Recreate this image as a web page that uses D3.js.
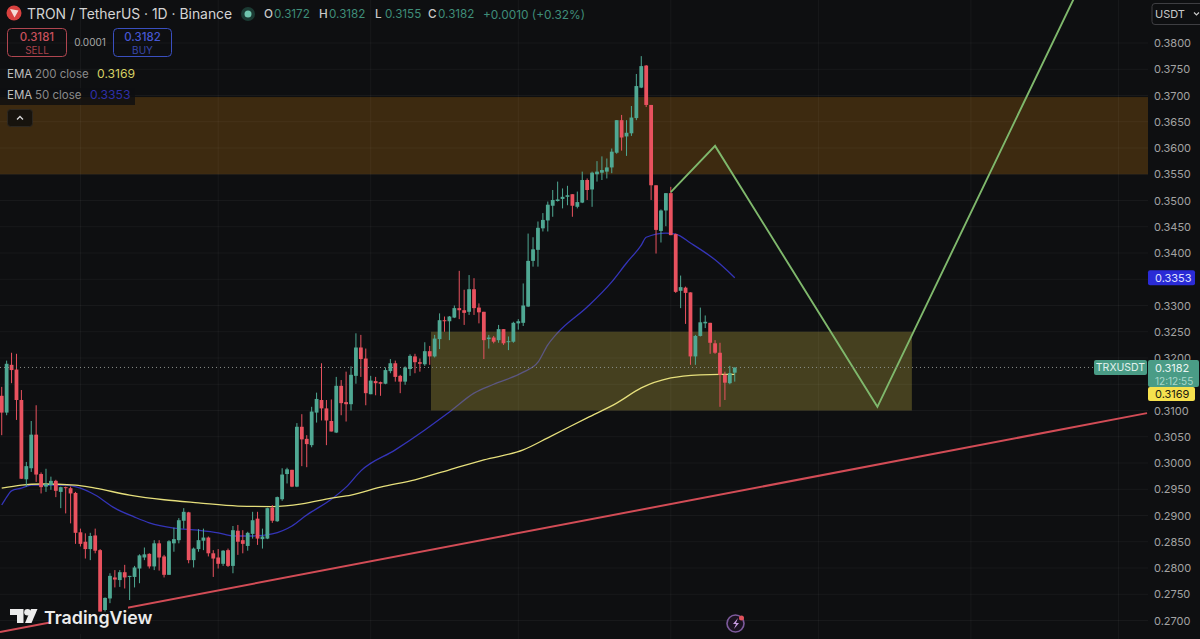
<!DOCTYPE html>
<html>
<head>
<meta charset="utf-8">
<script src="https://cdnjs.cloudflare.com/ajax/libs/d3/7.8.5/d3.min.js"></script>
<style>
  html, body { margin: 0; padding: 0; background: #0e0f11; }
  svg { display: block; font-family: Inter, "Noto Sans", sans-serif; }
</style>
</head>
<body>
<svg id="chart" width="1200" height="639"></svg>
<script>
// Daily TRX/USDT candles
const opens = [
  .3128,.3096,.3187,.3178,.3120,.2969,.2990,.3054,.2979,.2955,
  .2958,.2966,.2945,.2954,.2952,.2943,.2868,.2850,.2836,.2862,
  .2834,.2720,.2742,.2782,.2777,.2792,.2783,.2783,.2799,.2820,
  .2827,.2803,.2847,.2822,.2787,.2847,.2853,.2890,.2906,.2815,
  .2836,.2852,.2858,.2828,.2820,.2808,.2834,.2804,.2871,.2853,
  .2842,.2865,.2894,.2855,.2856,.2915,.2889,.2931,.2979,.2987,
  .2955,.3069,.3046,.3034,.3096,.3120,.3104,.3080,.3058,.3147,
  .3116,.3112,.3166,.3220,.3199,.3131,.3156,.3154,.3151,.3175,
  .3190,.3166,.3155,.3179,.3203,.3192,.3188,.3213,.3203,.3236,
  .3272,.3270,.3277,.3295,.3291,.3288,.3331,.3296,.3288,.3236,
  .3239,.3234,.3255,.3231,.3231,.3266,.3267,.3298,.3385,.3406,
  .3447,.3462,.3490,.3499,.3503,.3507,.3512,.3488,.3496,.3539,
  .3521,.3550,.3553,.3555,.3563,.3591,.3653,.3622,.3628,.3657,
  .3715,.3757,.3682,.3529,.3442,.3481,.3514,.3436,.3328,.3334,
  .3325,.3203,.3242,.3266,.3267,.3228,.3210,.3168,.3152,.3172
];
const highs = [
  .3145,.3195,.3210,.3208,.3139,.3002,.3080,.3110,.2982,.2989,
  .2974,.2968,.2955,.2955,.2955,.2945,.2875,.2866,.2867,.2875,
  .2836,.2744,.2790,.2796,.2796,.2806,.2785,.2804,.2826,.2839,
  .2828,.2853,.2853,.2825,.2853,.2877,.2895,.2914,.2907,.2839,
  .2874,.2875,.2860,.2834,.2836,.2834,.2837,.2880,.2882,.2872,
  .2869,.2907,.2907,.2875,.2915,.2920,.2936,.2990,.2991,.2987,
  .3076,.3093,.3053,.3107,.3134,.3190,.3120,.3121,.3164,.3158,
  .3174,.3184,.3247,.3244,.3218,.3166,.3164,.3155,.3182,.3198,
  .3195,.3168,.3184,.3207,.3208,.3199,.3230,.3223,.3244,.3285,
  .3279,.3280,.3300,.3366,.3330,.3358,.3352,.3304,.3288,.3244,
  .3242,.3263,.3255,.3241,.3269,.3274,.3342,.3437,.3430,.3460,
  .3476,.3498,.3520,.3536,.3523,.3528,.3512,.3517,.3555,.3542,
  .3555,.3575,.3584,.3580,.3599,.3653,.3663,.3653,.3680,.3741,
  .3775,.3758,.3682,.3529,.3483,.3514,.3526,.3437,.3357,.3336,
  .3325,.3244,.3296,.3281,.3267,.3234,.3229,.3174,.3185,.3182
];
const lows = [
  .3053,.3091,.3152,.3082,.2970,.2955,.2983,.2964,.2942,.2945,
  .2949,.2935,.2914,.2904,.2885,.2846,.2841,.2818,.2815,.2828,
  .2717,.2717,.2733,.2763,.2764,.2761,.2739,.2763,.2771,.2815,
  .2799,.2796,.2795,.2782,.2787,.2831,.2847,.2875,.2809,.2801,
  .2831,.2834,.2822,.2783,.2799,.2804,.2802,.2790,.2825,.2828,
  .2833,.2856,.2844,.2837,.2855,.2886,.2888,.2928,.2961,.2954,
  .2954,.2994,.2992,.3030,.3077,.3081,.3034,.3060,.3057,.3091,
  .3079,.3100,.3151,.3164,.3110,.3131,.3129,.3128,.3150,.3171,
  .3155,.3133,.3149,.3166,.3171,.3174,.3185,.3187,.3201,.3217,
  .3250,.3234,.3276,.3274,.3263,.3282,.3282,.3266,.3198,.3218,
  .3228,.3229,.3225,.3215,.3229,.3254,.3261,.3297,.3374,.3374,
  .3441,.3441,.3469,.3498,.3485,.3491,.3469,.3485,.3495,.3501,
  .3488,.3536,.3539,.3542,.3552,.3589,.3595,.3585,.3623,.3653,
  .3714,.3678,.3501,.3399,.3420,.3451,.3434,.3324,.3295,.3265,
  .3187,.3187,.3241,.3257,.3208,.3208,.3107,.3120,.3150,.3155
];
const closes = [
  .3096,.3189,.3177,.3120,.2970,.2994,.3054,.2978,.2954,.2960,
  .2966,.2947,.2954,.2952,.2942,.2867,.2846,.2836,.2861,.2833,
  .2717,.2743,.2785,.2778,.2792,.2782,.2785,.2801,.2824,.2826,
  .2803,.2847,.2820,.2787,.2851,.2855,.2891,.2907,.2815,.2837,
  .2853,.2858,.2828,.2818,.2808,.2833,.2804,.2872,.2850,.2846,
  .2867,.2891,.2856,.2860,.2914,.2890,.2935,.2978,.2988,.2955,
  .3069,.3045,.3036,.3098,.3122,.3104,.3081,.3060,.3147,.3114,
  .3112,.3168,.3220,.3198,.3133,.3157,.3152,.3151,.3177,.3190,
  .3164,.3155,.3182,.3204,.3192,.3189,.3213,.3203,.3237,.3272,
  .3270,.3279,.3295,.3291,.3286,.3331,.3295,.3287,.3234,.3239,
  .3231,.3255,.3228,.3232,.3267,.3270,.3300,.3385,.3407,.3448,
  .3463,.3492,.3501,.3502,.3507,.3510,.3490,.3497,.3539,.3520,
  .3553,.3555,.3558,.3563,.3593,.3653,.3620,.3629,.3658,.3718,
  .3756,.3682,.3529,.3444,.3481,.3514,.3434,.3326,.3335,.3324,
  .3203,.3242,.3268,.3269,.3229,.3210,.3168,.3153,.3171,.3182
];

// Moving averages, as [bar index, price]
const ema200 = [[0,.2952],[4,.2958],[8,.2960],[15,.2958],[19,.2952],[26,.2939],[33,.2930],[40,.2924],
  [48,.2918],[55,.2917],[61,.2922],[67,.2933],[71,.2939],[77,.2954],[84,.2968],[91,.2987],[98,.3006],
  [106,.3025],[111,.3048],[119,.3086],[125,.3114],[130,.3143],[136,.3162],[142,.3168],[146,.3169],[149,.3169]];
const ema50 = [[0,.2920],[1,.2935],[2,.2947],[4,.2952],[6,.2958],[13,.2958],[16,.2952],[19,.2939],[23,.2914],
  [27,.2897],[30,.2886],[35,.2876],[40,.2872],[44,.2867],[47,.2861],[51,.2861],[55,.2865],[59,.2880],
  [62,.2901],[67,.2931],[70,.2954],[73,.2985],[80,.3025],[86,.3063],[91,.3097],[96,.3133],[100,.3150],
  [106,.3173],[109,.3192],[111,.3225],[113,.3248],[119,.3297],[124,.3345],[127,.3381],[130,.3415],
  [131,.3430],[135,.3438],[137,.3436],[140,.3419],[145,.3387],[149,.3353]];

// Hand-drawn analysis: trend line, projected path, supply and demand zones
const trendLine = [[-0.35,.2678],[232.8,.3095]];
const projection = [[136,.3516],[145,.3604],[178,.3107],[218,.3886]];
const supplyZone = { from: -0.35, to: 233, top: .3697, bottom: .3550 };
const demandZone = { from: 87.25, to: 185, top: .3250, bottom: .3100 };

const priceTicks = [.38,.37,.375,.365,.36,.355,.35,.345,.34,.335,.33,.325,.32,.315,.31,.305,.30,.295,.29,.285,.28,.275,.27];
const monthBars = [16,44,75,105,136,166,197,227];
const lastPrice = .3182, ema200Last = .3169, ema50Last = .3353;

const svg = d3.select("#chart");
const paneRight = 1148;
const x = d3.scaleLinear().domain([-0.35, 233]).range([0, paneRight]);
const y = d3.scaleLinear().domain([.38, .27]).range([43, 620.5]);

const BG = "#0e0f11", UP = "#4fa893", DOWN = "#e9525f";

svg.append("defs").append("clipPath").attr("id", "pane")
  .append("rect").attr("width", paneRight).attr("height", 639);
svg.append("rect").attr("width", 1200).attr("height", 639).attr("fill", BG);

const pane = svg.append("g").attr("clip-path", "url(#pane)");
const line = d3.line().x(d => x(d[0])).y(d => y(d[1]));
const smooth = d3.line().x(d => x(d[0])).y(d => y(d[1])).curve(d3.curveMonotoneX);

// Blue EMA sits under the demand box so it reads muted inside it
pane.append("path").attr("d", smooth(ema50)).attr("fill", "none")
  .attr("stroke", "#3434b8").attr("stroke-width", 1.3);

const zone = (z, fill) => pane.append("rect")
  .attr("x", x(z.from)).attr("width", x(z.to) - x(z.from))
  .attr("y", y(z.top)).attr("height", y(z.bottom) - y(z.top))
  .attr("fill", fill);
zone(supplyZone, "#3d2a10");
zone(demandZone, "rgba(145,134,52,0.42)");

// Grid
pane.append("g").selectAll("line").data(priceTicks).join("line")
  .attr("x1", 0).attr("x2", paneRight)
  .attr("y1", d => y(d)).attr("y2", d => y(d))
  .attr("stroke", "rgba(255,255,255,0.045)");
pane.append("g").selectAll("line").data(monthBars).join("line")
  .attr("x1", d => x(d)).attr("x2", d => x(d))
  .attr("y1", 0).attr("y2", 639)
  .attr("stroke", "rgba(255,255,255,0.045)");

pane.append("path").attr("d", smooth(ema200)).attr("fill", "none")
  .attr("stroke", "#e6df7c").attr("stroke-width", 1.3);

pane.append("path").attr("d", line(trendLine)).attr("fill", "none")
  .attr("stroke", "#d24c56").attr("stroke-width", 2);

// The watermark keeps a dark plate behind it
pane.append("rect").attr("x", 50).attr("y", 600).attr("width", 78).attr("height", 34).attr("fill", BG);

// Candles
const bars = d3.range(opens.length);
const candles = pane.append("g");
candles.selectAll("line").data(bars).join("line")
  .attr("x1", i => x(i)).attr("x2", i => x(i))
  .attr("y1", i => y(highs[i])).attr("y2", i => y(lows[i]))
  .attr("stroke", i => closes[i] >= opens[i] ? UP : DOWN).attr("stroke-width", 1);
candles.selectAll("rect").data(bars).join("rect")
  .attr("x", i => x(i) - 1.9).attr("width", 3.8)
  .attr("y", i => y(Math.max(opens[i], closes[i])))
  .attr("height", i => Math.max(1, Math.abs(y(opens[i]) - y(closes[i]))))
  .attr("fill", i => closes[i] >= opens[i] ? UP : DOWN);

pane.append("path").attr("d", line(projection)).attr("fill", "none")
  .attr("stroke", "#7fb86c").attr("stroke-width", 1.9);

// Last price guide
svg.append("line").attr("x1", 0).attr("x2", 1094)
  .attr("y1", y(lastPrice)).attr("y2", y(lastPrice))
  .attr("stroke", "#8a8f8a").attr("stroke-width", 1).attr("stroke-dasharray", "1 3");

// Price axis
const axis = svg.append("g").attr("transform", `translate(${paneRight},0)`)
  .call(d3.axisRight(y).tickValues(priceTicks).tickSize(0).tickPadding(6)
    .tickFormat(d => d.toFixed(4)));
axis.select(".domain").remove();
axis.selectAll("text").attr("fill", "#a3a3a3").attr("font-size", 11)
  .attr("font-family", "Inter, 'Noto Sans', sans-serif");

// Axis badges
function badge(x0, y0, w, h, fill) {
  svg.append("rect").attr("x", x0).attr("y", y0).attr("width", w).attr("height", h)
    .attr("rx", 2).attr("fill", fill);
}
function label(tx, ty, str, fill, size, anchor, weight) {
  return svg.append("text").attr("x", tx).attr("y", ty).text(str)
    .attr("fill", fill).attr("font-size", size)
    .attr("text-anchor", anchor || "start")
    .attr("font-weight", weight || 400)
    .attr("dominant-baseline", "central");
}
badge(1148, y(ema50Last) - 7.5, 47, 15, "#2a2bd6");
label(1155, y(ema50Last), ema50Last.toFixed(4), "#dfe0ff", 11);

badge(1094, 360, 53, 15, "#4a9c86");
label(1120.5, 367.5, "TRXUSDT", "#e2f1ed", 10.5, "middle");
badge(1148, 360, 51, 27, "#4a9c86");
label(1155, 367.5, lastPrice.toFixed(4), "#eaf5f2", 11);
label(1155, 380.5, "12:12:55", "#a9d8cb", 10);
badge(1148, 387, 47, 14, "#f6e14e");
label(1155, 394, ema200Last.toFixed(4), "#1a1a10", 11);

// Currency switch
svg.append("rect").attr("x", 1152).attr("y", 3.5).attr("width", 52).attr("height", 21)
  .attr("rx", 3).attr("fill", "none").attr("stroke", "#3e3e42");
label(1155, 14, "USDT", "#c8c8c8", 11);
svg.append("path").attr("d", "M1194 12.5l2.5 2.5 2.5-2.5").attr("fill", "none")
  .attr("stroke", "#c8c8c8").attr("stroke-width", 1.2);

// Symbol header
svg.append("circle").attr("cx", 14).attr("cy", 13).attr("r", 7.5).attr("fill", "#d8413f");
svg.append("path").attr("d", "M10 9l8.5 1.5-4 7z").attr("fill", "#f3dcd6");
label(27, 13.5, "TRON / TetherUS · 1D · Binance", "#d4d4d4", 13.9);
svg.append("circle").attr("cx", 248).attr("cy", 14).attr("r", 7).attr("fill", "#1b3a33");
svg.append("circle").attr("cx", 248).attr("cy", 14).attr("r", 3.5).attr("fill", "#6fc4ad");

const i0 = opens.length - 1;
const ohlc = [["O", opens[i0], 264], ["H", highs[i0], 319], ["L", lows[i0], 375], ["C", closes[i0], 428]];
const QUOTE = "#3f8d79";
ohlc.forEach(([k, v, px]) => {
  label(px, 14, k, "#c9c9c9", 11.7, "start", 500);
  label(px + 10, 14, v.toFixed(4), QUOTE, 11.7);
});
label(483, 14, "+0.0010 (+0.32%)", QUOTE, 11.9);

// Bid and ask buttons
svg.append("rect").attr("x", 7.5).attr("y", 28.5).attr("width", 59).attr("height", 28)
  .attr("rx", 4).attr("fill", "none").attr("stroke", "#b04650");
label(37, 37, "0.3181", "#c8505c", 11.5, "middle", 500);
label(37, 49.5, "SELL", "#a8424c", 10, "middle");
label(90, 42, "0.0001", "#a8a8a8", 10, "middle");
svg.append("rect").attr("x", 113.5).attr("y", 28.5).attr("width", 58).attr("height", 28)
  .attr("rx", 4).attr("fill", "none").attr("stroke", "#3a4fc0");
label(142.5, 37, "0.3182", "#4656d0", 11.5, "middle", 500);
label(142.5, 49.5, "BUY", "#3a48aa", 10, "middle");

// Indicator legend
svg.append("rect").attr("x", 0).attr("y", 88).attr("width", 135).attr("height", 17)
  .attr("fill", BG).attr("fill-opacity", 0.82);
label(7, 73.5, "EMA", "#c0c0c0", 11.5);
label(35, 73.5, "200 close", "#8a8a8a", 11.5);
label(97, 73.5, ema200Last.toFixed(4), "#d6d064", 12.2);
label(7, 94.5, "EMA", "#c0c0c0", 11.5);
label(35, 94.5, "50 close", "#8a8a8a", 11.5);
label(90, 94.5, ema50Last.toFixed(4), "#2f2fa8", 12.2);
svg.append("rect").attr("x", 7.5).attr("y", 109.5).attr("width", 25).attr("height", 17)
  .attr("rx", 3).attr("fill", "#17130d").attr("stroke", "#2c2720");
svg.append("path").attr("d", "M17 119.5l3-3 3 3").attr("fill", "none")
  .attr("stroke", "#d8d8d8").attr("stroke-width", 1.3);

// Watermark
svg.append("path").attr("d", "M10 609h13.5v14h-6.5v-8H10z").attr("fill", "#ececec");
svg.append("circle").attr("cx", 27.5).attr("cy", 612.3).attr("r", 3.3).attr("fill", "#ececec");
svg.append("path").attr("d", "M31 609h6.5l-6 14h-6.5z").attr("fill", "#ececec");
label(44, 617, "TradingView", "#ececec", 17.8, "start", 600);

// Alert bolt
svg.append("circle").attr("cx", 735.5).attr("cy", 623.5).attr("r", 8.5)
  .attr("fill", "#1a1220").attr("stroke", "#7d5a9c").attr("stroke-width", 1.6);
svg.append("path").attr("d", "M738 618l-5 6h3l-2 5 5-6h-3z").attr("fill", "#c79ce0");
svg.append("circle").attr("cx", 741.5).attr("cy", 618).attr("r", 2.5).attr("fill", "#e0525c");
</script>
</body>
</html>
